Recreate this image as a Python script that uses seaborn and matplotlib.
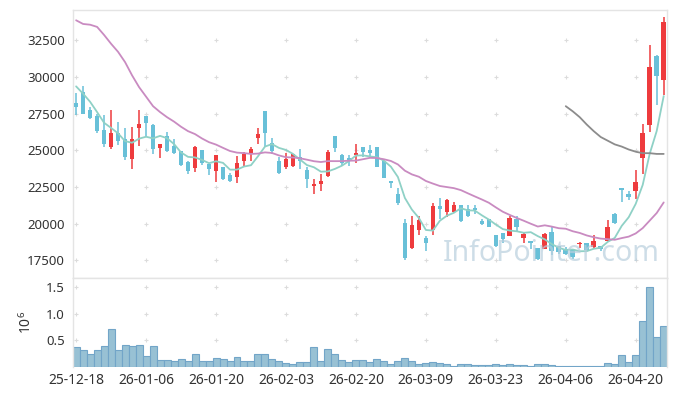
import numpy as np
import pandas as pd
import matplotlib
matplotlib.use("Agg")
import matplotlib.pyplot as plt
import seaborn as sns

# trading-day tick labels (every 10th session)
tick_labels = ["25-12-18", "26-01-06", "26-01-20", "26-02-03", "26-02-20",
               "26-03-09", "26-03-23", "26-04-06", "26-04-20"]

opens = [28200, 29000, 27750, 27300, 26350, 25200, 26200, 25750, 24400, 26500,
         27300, 26700, 25150, 25950, 25300, 24950, 24200, 23800, 25050, 24050,
         23600, 23850, 23300, 23200, 24300, 24800, 25850, 27650, 25500, 24250,
         23850, 23900, 24550, 23650, 22550, 22700, 23250, 25950, 24650, 24500,
         24650, 25200, 25000, 25250, 24250, 22900, 22050, 20050, 18350, 19600,
         19000, 19550, 21200, 20800, 20800, 21250, 21000, 21100, 20150, 20300,
         19200, 19350, 19150, 20350, 19000, 18800, 18350, 18250, 19450, 18450,
         18200, 18200, 18600, 18650, 18400, 18450, 18800, 20650, 22400, 22050,
         22250, 24500, 26700, 31400, 29750]
highs = [28900, 29350, 27950, 27500, 27400, 27750, 26950, 26500, 26600, 27750,
         27300, 26800, 25400, 26250, 25750, 24950, 24300, 25300, 25050, 24050,
         24650, 23850, 23450, 24600, 24900, 25250, 26500, 27650, 25800, 24550,
         24800, 24750, 25100, 23850, 23050, 23400, 25050, 25950, 24750, 24650,
         25450, 25200, 25350, 25250, 24250, 22900, 22400, 20350, 20500, 20550,
         19150, 21400, 21750, 21650, 21500, 21250, 21250, 21300, 20350, 20300,
         19200, 19350, 20500, 20500, 19400, 18800, 18350, 19350, 19750, 18450,
         18400, 18300, 18750, 18650, 19200, 18500, 20250, 20750, 22400, 22250,
         23650, 26800, 32150, 31500, 34050]
lows = [27400, 27450, 27150, 26150, 25200, 25100, 25350, 24350, 23750, 25300,
        26000, 24750, 24500, 24900, 24750, 23900, 23400, 23500, 24000, 23300,
        22850, 22950, 22850, 22750, 23850, 24300, 25450, 25250, 24750, 23400,
        23700, 23850, 23750, 22400, 22000, 22250, 23200, 24900, 24000, 23900,
        24100, 24550, 24500, 23850, 23100, 22400, 21300, 17500, 18300, 19200,
        18150, 19250, 20350, 20450, 20700, 20100, 20450, 20650, 19900, 19750,
        18400, 18650, 19150, 19500, 18700, 18250, 17550, 18250, 17850, 17950,
        17850, 17600, 18350, 18150, 18300, 18150, 18750, 20000, 21450, 21600,
        21700, 23400, 26250, 28050, 28750]
closes = [27950, 27500, 27200, 26300, 25400, 26200, 25650, 24550, 25750, 26800,
          26850, 25100, 25400, 24950, 24800, 24000, 23600, 25200, 24100, 23700,
          24650, 23050, 22900, 24100, 24750, 25100, 26100, 26200, 24950, 23450,
          24400, 24750, 24300, 23050, 22700, 22900, 24850, 25150, 24150, 24250,
          24800, 24900, 24800, 23850, 23100, 22750, 21400, 17650, 19900, 20250,
          18650, 21200, 21000, 21600, 21250, 20200, 20500, 20900, 20000, 19800,
          18500, 18950, 20400, 19750, 19300, 18700, 17600, 19300, 18150, 18050,
          17950, 17750, 18700, 18200, 18850, 18300, 19750, 20050, 22300, 21800,
          22850, 26200, 30650, 30050, 33700]
# volume in millions of shares
volumes = [0.37, 0.32, 0.24, 0.32, 0.39, 0.71, 0.32, 0.41, 0.39, 0.41,
           0.21, 0.39, 0.13, 0.13, 0.11, 0.15, 0.11, 0.24, 0.11, 0.11,
           0.17, 0.15, 0.11, 0.19, 0.11, 0.11, 0.24, 0.24, 0.15, 0.11,
           0.075, 0.056, 0.094, 0.094, 0.37, 0.11, 0.34, 0.24, 0.13, 0.094,
           0.13, 0.13, 0.094, 0.15, 0.11, 0.056, 0.11, 0.17, 0.11, 0.056,
           0.075, 0.094, 0.075, 0.056, 0.013, 0.056, 0.056, 0.03, 0.03, 0.03,
           0.056, 0.03, 0.056, 0.03, 0.03, 0.013, 0.056, 0.056, 0.03, 0.013,
           0.013, 0.013, 0.013, 0.013, 0.013, 0.013, 0.075, 0.056, 0.225, 0.094,
           0.225, 0.86, 1.51, 0.56, 0.77]

# moving averages before enough sessions are on screen
ma5_head = [29350, 28850, 28300, 27600]
ma20_head = [33850, 33600, 33550, 33400, 32850, 32250, 31700, 31000, 30100, 29300,
             28650, 28000, 27600, 27250, 26950, 26600, 26300, 26100, 25800]
ma_long_start = 70
ma_long = [28000, 27650, 27250, 26750, 26300, 25900, 25650, 25400, 25250, 25050,
           24900, 24800, 24800, 24750, 24750]

df = pd.DataFrame({"open": opens, "high": highs, "low": lows,
                   "close": closes, "volume": volumes})
df["idx"] = np.arange(len(df))
df["ma5"] = df["close"].rolling(5).mean()
df.loc[:len(ma5_head) - 1, "ma5"] = ma5_head
df["ma20"] = df["close"].rolling(20).mean()
df.loc[:len(ma20_head) - 1, "ma20"] = ma20_head
df["ma_long"] = np.nan
df.loc[ma_long_start:, "ma_long"] = ma_long

up_col = "#ee3b3d"
down_col = "#68c0d8"
df["col"] = np.where(df["close"] >= df["open"], up_col, down_col)

sns.set_style("white")
plt.rcParams["font.family"] = ["Noto Sans", "DejaVu Sans"]
plt.rcParams["axes.unicode_minus"] = False

fig = plt.figure(figsize=(6.77, 3.96), dpi=100)
ax = fig.add_axes([0.1083, 0.298, 0.8767, 0.6767])
axv = fig.add_axes([0.1083, 0.0732, 0.8767, 0.2248], sharex=ax)

spine_col = "#e4e4e4"
grid_col = "#dcdcdc"
text_col = "#333333"

# candles
ax.vlines(df["idx"], df["low"], df["high"], colors=df["col"], lw=1.1, zorder=2)
body_lo = df[["open", "close"]].min(axis=1)
body_h = (df["open"] - df["close"]).abs().clip(lower=60)
ax.bar(df["idx"], body_h, bottom=body_lo, width=0.66, color=df["col"],
       linewidth=0, zorder=3)

sns.lineplot(data=df, x="idx", y="ma5", ax=ax, color="#8fd1c6", lw=1.3, zorder=4)
sns.lineplot(data=df, x="idx", y="ma20", ax=ax, color="#c98bc1", lw=1.3, zorder=4)
sns.lineplot(data=df, x="idx", y="ma_long", ax=ax, color="#8c8c8c", lw=1.3, zorder=4)

# volume
sns.barplot(data=df, x="idx", y="volume", ax=axv, width=1.0, color="#98c1d4",
            edgecolor="#72a5c8", linewidth=0.8, saturation=1, errorbar=None,
            native_scale=True)

xt = list(range(0, 81, 10))
yt_main = [17500, 20000, 22500, 25000, 27500, 30000, 32500]
yt_vol = [0.5, 1.0, 1.5]

gx, gy = np.meshgrid(xt, yt_main)
ax.scatter(gx.ravel(), gy.ravel(), marker="+", s=12, color=grid_col, lw=0.8, zorder=1)
gx, gy = np.meshgrid(xt, yt_vol)
axv.scatter(gx.ravel(), gy.ravel(), marker="+", s=12, color=grid_col, lw=0.8, zorder=0)

ax.set_xlim(-0.4, 84.45)
ax.set_ylim(16300, 34550)
axv.set_ylim(0, 1.67)

ax.set_yticks(yt_main)
ax.set_yticklabels([str(v) for v in yt_main])
axv.set_yticks(yt_vol)
axv.set_yticklabels(["0.5", "1.0", "1.5"])
axv.set_xticks(xt)
axv.set_xticklabels(tick_labels)
ax.tick_params(axis="x", labelbottom=False, length=0)
ax.tick_params(axis="y", length=0, pad=6, labelsize=9.5, labelcolor=text_col)
axv.tick_params(axis="y", length=0, pad=6, labelsize=9.5, labelcolor=text_col)
axv.tick_params(axis="x", length=0, pad=4, labelsize=10, labelcolor=text_col)

ax.set_xlabel("")
ax.set_ylabel("")
axv.set_xlabel("")
axv.set_ylabel(r"$\mathregular{10^6}$", fontsize=10, color=text_col, labelpad=8)

for a in (ax, axv):
    for s in a.spines.values():
        s.set_color(spine_col)
        s.set_linewidth(1.0)
axv.spines["bottom"].set_visible(False)

ax.text(0.805, 0.09, "InfoPointer.com", transform=ax.transAxes, fontsize=20.5,
        color="#b9cfdd", alpha=0.7, ha="center", va="center", zorder=5)

fig.savefig("out.png", dpi=100)
